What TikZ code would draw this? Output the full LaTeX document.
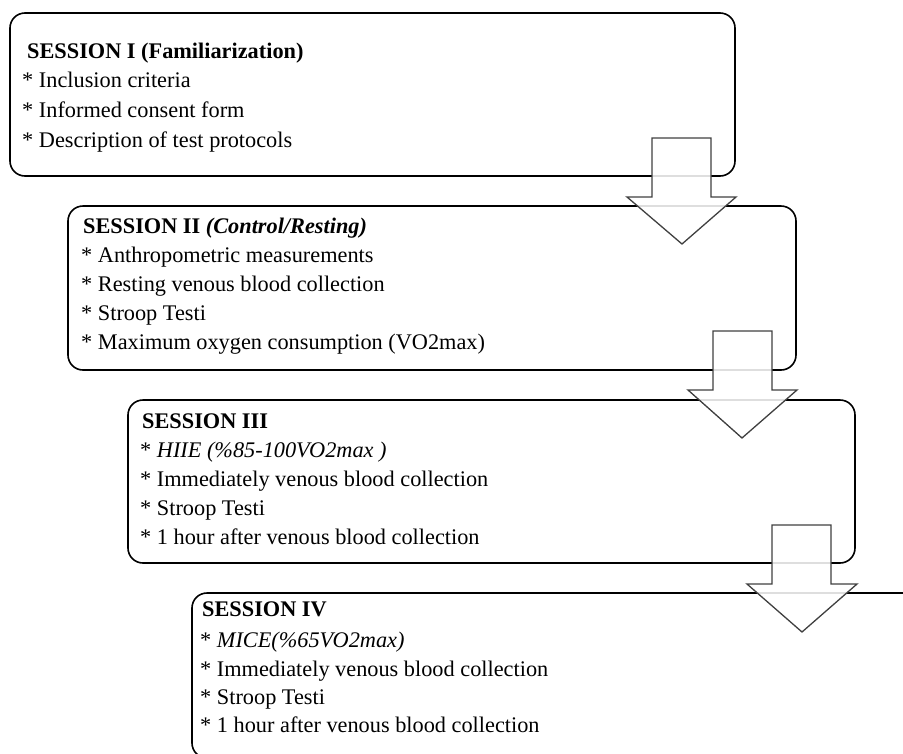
\documentclass[tikz,border=0pt]{standalone}
\usepackage{fontspec}
\setmainfont{Liberation Serif}
\begin{document}
\begin{tikzpicture}[x=1pt,y=-1pt,
  sbox/.style={draw=black, line width=1.6pt, rounded corners=15pt},
  txt/.style={anchor=base west, inner sep=0pt, font=\fontsize{22.3}{26}\selectfont},
  barrow/.style={draw=black!75, line width=1.3pt, fill=white, fill opacity=0.87, line join=miter}]
\useasboundingbox (0,0) rectangle (903,753);
\clip (0,0) rectangle (903,753);
% boxes
\draw[sbox] (10,13) rectangle (735,176);
\draw[sbox] (68,206) rectangle (796,370);
\draw[sbox] (128,400) rectangle (855,563);
\draw[sbox] (192,593) rectangle (935,758);
% session I
\node[txt] (a0) at (27,58) {\textbf{SESSION I (Familiarization)}};
\node[txt] (a1) at (22,87) {* Inclusion criteria};
\node[txt] (a2) at (22,117) {* Informed consent form};
\node[txt] (a3) at (22,147) {* Description of test protocols};
% session II
\node[txt] (b0) at (83,233) {\textbf{SESSION II \textit{(Control/Resting)}}};
\node[txt] (b1) at (81,262) {* Anthropometric measurements};
\node[txt] (b2) at (81,291) {* Resting venous blood collection};
\node[txt] (b3) at (81,320) {* Stroop Testi};
\node[txt] (b4) at (81,349) {* Maximum oxygen consumption (VO2max)};
% session III
\node[txt] (c0) at (142,428) {\textbf{SESSION III}};
\node[txt] (c1) at (140,457) {* \textit{HIIE (\%85-100VO2max )}};
\node[txt] (c2) at (140,486) {* Immediately venous blood collection};
\node[txt] (c3) at (140,515) {* Stroop Testi};
\node[txt] (c4) at (140,544) {* 1 hour after venous blood collection};
% session IV
\node[txt] (d0) at (202,616) {\textbf{SESSION IV}};
\node[txt] (d1) at (200,647) {* \textit{MICE(\%65VO2max)}};
\node[txt] (d2) at (200,676) {* Immediately venous blood collection};
\node[txt] (d3) at (200,704) {* Stroop Testi};
\node[txt] (d4) at (200,732) {* 1 hour after venous blood collection};
% block arrows
\draw[barrow] (652,138) -- (711,138) -- (711,197) -- (736,197) -- (682,244) -- (627,197) -- (652,197) -- cycle;
\draw[barrow] (713,331) -- (772,331) -- (772,390) -- (797,390) -- (742,438) -- (688,390) -- (713,390) -- cycle;
\draw[barrow] (772,525) -- (831,525) -- (831,584) -- (857,584) -- (802,632) -- (747,584) -- (772,584) -- cycle;
\end{tikzpicture}
\end{document}
